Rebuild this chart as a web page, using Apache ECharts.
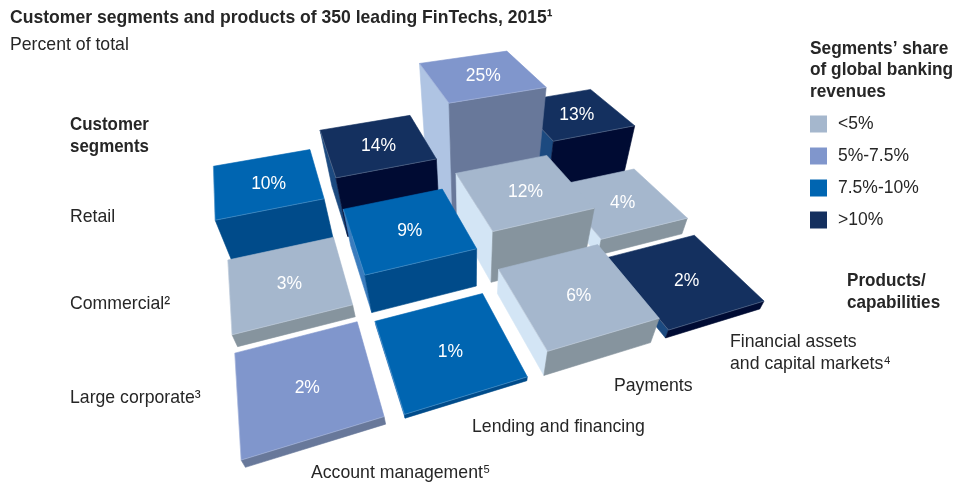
<!DOCTYPE html>
<html><head><meta charset="utf-8"><style>html,body{margin:0;background:#fff}#c{width:960px;height:484px}</style>
<script src="https://cdn.jsdelivr.net/npm/echarts@6/dist/echarts.min.js"></script></head><body><div id="c"></div>
<script>
const products = ['Account management', 'Lending and financing', 'Payments', 'Financial assets and capital markets'];
const segments = ['Large corporate', 'Commercial', 'Retail'];
const largeCorporate = [2, 1, 6, 2];
const commercial = [3, 9, 12, 4];
const retail = [10, 14, 25, 13];
const bandLargeCorporate = [1, 2, 0, 3];
const bandCommercial = [0, 2, 0, 0];
const bandRetail = [2, 3, 1, 3];
const bands = ['<5%', '5%-7.5%', '7.5%-10%', '>10%'];

const topColors = ['#A5B7CD', '#8096CC', '#0065B1', '#14305F'];
const frontColors = ['#86949E', '#68789A', '#004B8A', '#000B33'];
const leftColors = ['#D3E5F5', '#AFC4E3', '#3A7CBE', '#1C4A80'];

// Camera: projects (product, segment, percent) to the page
const P = [190.2589, 41.79897, -4.415458, 245.4170, -17.60485, -48.30955, -7.914864, 467.3178, 0.07547092, 0.2088048, -0.009364878];
const W = 0.87, D = 0.86;
function project(X, Y, Z) {
  const h = P[8] * X + P[9] * Y + P[10] * Z + 1;
  return [(P[0] * X + P[1] * Y + P[2] * Z + P[3]) / h, (P[4] * X + P[5] * Y + P[6] * Z + P[7]) / h];
}
function area(p) {
  let s = 0;
  p.forEach((a, i) => { const b = p[(i + 1) % p.length]; s += a[0] * b[1] - b[0] * a[1]; });
  return s / 2;
}
const GRID = { left: 0, top: 0, width: 400, height: 300 };
const FONT = '"Liberation Sans", sans-serif';
function renderBar(params, api) {
  const col = api.value(0), row = api.value(1), v = api.value(2), band = api.value(3);
  const g0 = api.coord([col, row]);
  const gx = (g0[0] - GRID.left) / 100, gy = (GRID.top + GRID.height - g0[1]) / 100;
  const c = (x, y, z) => project(gx + x, gy + y, z);
  const tFL = c(0, 0, v), tFR = c(W, 0, v), tBR = c(W, D, v), tBL = c(0, D, v);
  const bFL = c(0, 0, 0), bFR = c(W, 0, 0), bBL = c(0, D, 0);
  const base = (2 - row) * 100 + (3 - col) * 10;
  const poly = (points, fill, z) => ({
    type: 'polygon', z2: base + z, shape: { points },
    style: { fill, stroke: fill, lineWidth: 0.6 }
  });
  const kids = [];
  const left = [tBL, tFL, bFL, bBL];
  if (area(left) > 0) kids.push(poly(left, leftColors[band], 1));
  kids.push(poly([tFL, tFR, bFR, bFL], frontColors[band], 2));
  kids.push(poly([tBL, tBR, tFR, tFL], topColors[band], 3));
  kids.push({ type: 'polyline', z2: base + 4, shape: { points: [tBL, tFL, tFR] },
    style: { fill: null, stroke: 'rgba(255,255,255,0.28)', lineWidth: 0.7 } });
  const midX = (tFL[0] + tFR[0] + tBR[0] + tBL[0]) / 4 + 3;
  const midY = (tFL[1] + tFR[1] + tBR[1] + tBL[1]) / 4;
  kids.push({
    type: 'text', z2: base + 5, x: midX, y: midY, scaleX: 0.92,
    style: { text: v + '%', fill: '#fff', align: 'center', verticalAlign: 'middle', font: '19px ' + FONT }
  });
  return { type: 'group', children: kids };
}
const rows = [largeCorporate, commercial, retail];
const rowBands = [bandLargeCorporate, bandCommercial, bandRetail];
function bandData(b) {
  const out = [];
  rows.forEach((vals, r) => vals.forEach((v, c) => { if (rowBands[r][c] === b) out.push([c, r, v, b]); }));
  return out;
}
const INK = '#262626';
function txt(text, x, y, bold, sx) {
  return { type: 'text', x, y, silent: true, scaleX: sx || (bold ? 0.9 : 0.93), style: { text, fill: INK, lineHeight: 21.5,
    font: (bold ? 'bold ' : '') + '19px ' + FONT, verticalAlign: 'middle' } };
}
const chart = echarts.init(document.getElementById('c'), null, { renderer: 'canvas' });
chart.setOption({
  animation: false,
  backgroundColor: '#fff',
  grid: GRID,
  xAxis: { type: 'value', min: 0, max: 4, show: false },
  yAxis: { type: 'value', min: 0, max: 3, show: false },
  legend: { left: 805, top: 110, orient: 'vertical', itemWidth: 17, itemHeight: 17, itemGap: 14, icon: 'rect',
    selectedMode: false, data: bands, textStyle: { fontFamily: FONT, fontSize: 17.5, color: INK, padding: [2, 0, 0, 6] } },
  graphic: [
    txt('Customer segments and products of 350 leading FinTechs, 2015\u00B9', 10, 18, true, 0.925),
    txt('Percent of total', 10, 45),
    txt('Customer\nsegments', 70, 136, true, 0.89),
    txt(segments[2], 70, 217),
    txt(segments[1] + '\u00B2', 70, 304),
    txt(segments[0] + '\u00B3', 70, 398),
    txt(products[0] + '\u2075', 311, 473),
    txt(products[1], 472, 427),
    txt(products[2], 614, 386),
    txt('Financial assets\nand capital markets\u2074', 730, 353),
    txt('Segments\u2019 share\nof global banking\nrevenues', 810, 70, true, 0.91),
    txt('Products/\ncapabilities', 847, 292, true)
  ],
  series: bands.map((name, b) => ({
    name, type: 'custom', coordinateSystem: 'cartesian2d', clip: false, silent: true,
    itemStyle: { color: topColors[b] },
    encode: { x: 0, y: 1 },
    renderItem: renderBar, data: bandData(b)
  }))
});
</script></body></html>
